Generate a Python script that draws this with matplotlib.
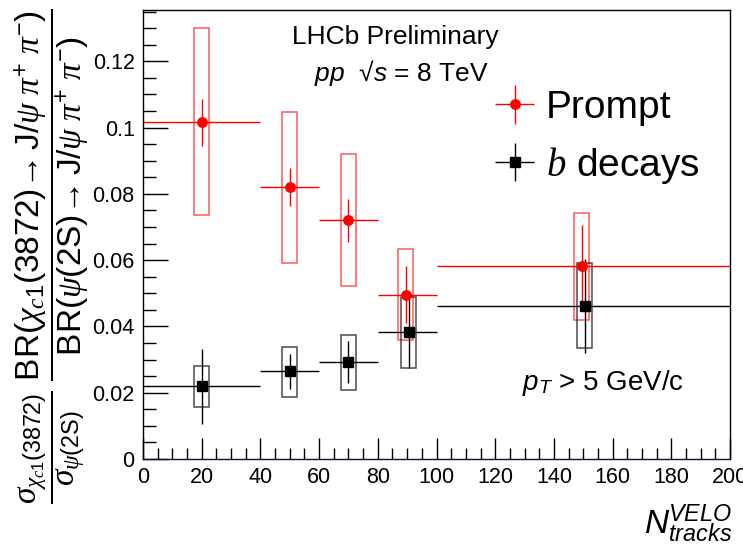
import matplotlib
matplotlib.use("Agg")
import matplotlib.pyplot as plt
import numpy as np

plt.rcParams['font.family'] = ['Liberation Sans', 'DejaVu Sans']
plt.rcParams['mathtext.fontset'] = 'custom'
plt.rcParams['mathtext.rm'] = 'Liberation Sans'
plt.rcParams['mathtext.sf'] = 'Liberation Sans:italic'
plt.rcParams['mathtext.it'] = 'Liberation Serif:italic'
plt.rcParams['mathtext.bf'] = 'Liberation Sans:bold'

# ---- data ----
bin_lo = [0, 40, 60, 80, 100]
bin_hi = [40, 60, 80, 100, 200]

prompt_x = [20, 50, 70, 89.5, 149.5]
prompt_y = [0.1016, 0.0820, 0.0721, 0.0496, 0.0582]
prompt_stat = [0.0070, 0.0058, 0.0065, 0.0086, 0.0124]
prompt_sys_lo = [0.0737, 0.0591, 0.0521, 0.0358, 0.0420]
prompt_sys_hi = [0.1300, 0.1048, 0.0921, 0.0633, 0.0743]

b_x = [20, 50, 70, 90.5, 150.5]
b_y = [0.0219, 0.0265, 0.0292, 0.0382, 0.0461]
b_stat = [0.0113, 0.0053, 0.0063, 0.0108, 0.0142]
b_sys_lo = [0.0156, 0.0188, 0.0209, 0.0274, 0.0334]
b_sys_hi = [0.0281, 0.0338, 0.0375, 0.0489, 0.0590]

sys_width = 5.0

fig = plt.figure(figsize=(7.43, 5.48), dpi=100)
ax = fig.add_axes([0.1925, 0.1624, 0.79, 0.8194])

def draw(xs, ys, stat, slo, shi, color, marker, alpha_box):
    xs = np.array(xs); ys = np.array(ys)
    xerr = [xs - np.array(bin_lo), np.array(bin_hi) - xs]
    ax.bar(xs, np.array(shi) - np.array(slo), bottom=slo, width=sys_width,
           fill=False, edgecolor=color, linewidth=1.1, alpha=alpha_box, zorder=2)
    ax.errorbar(xs, ys, yerr=stat, xerr=xerr, fmt=marker, color=color,
                ecolor=color, elinewidth=1.0, capsize=0, markersize=6.8,
                zorder=3)

draw(prompt_x, prompt_y, prompt_stat, prompt_sys_lo, prompt_sys_hi, 'red', 'o', 0.65)
draw(b_x, b_y, b_stat, b_sys_lo, b_sys_hi, 'black', 's', 0.7)

ax.set_xlim(0, 200)
ax.set_ylim(0, 0.1355)
ax.set_xticks(np.arange(0, 201, 20))
ax.set_xticks(np.arange(0, 201, 5), minor=True)
ax.set_yticks(np.arange(0, 0.121, 0.02))
ax.set_yticks(np.arange(0, 0.1355, 0.005), minor=True)
ax.set_yticklabels(['0', '0.02', '0.04', '0.06', '0.08', '0.1', '0.12'])
ax.tick_params(which='both', direction='in', top=False, right=False,
               labelsize=15.5, width=1.0)
ax.tick_params(axis='y', which='major', length=18, pad=6)
ax.tick_params(axis='y', which='minor', length=9)
ax.tick_params(axis='x', which='major', length=15, pad=6)
ax.tick_params(axis='x', which='minor', length=8)
for s in ax.spines.values():
    s.set_linewidth(1.0)
ax.spines['bottom'].set_color('#101040')

# texts
ax.text(0.43, 0.94, 'LHCb Preliminary', transform=ax.transAxes,
        ha='center', va='center', fontsize=19)
ax.text(0.44, 0.86, r'$\mathsf{pp}$  √$\mathsf{s}$ = 8 TeV', transform=ax.transAxes,
        ha='center', va='center', fontsize=19)
ax.text(0.645, 0.17, r'$\mathsf{p}_{\mathsf{T}}$ > 5 GeV/c', transform=ax.transAxes,
        ha='left', va='center', fontsize=20)

# legend
hp = ax.errorbar([], [], yerr=[], xerr=[], fmt='o', color='red', markersize=6.8,
                 elinewidth=1.0)
hb = ax.errorbar([], [], yerr=[], xerr=[], fmt='s', color='black', markersize=6.8,
                 elinewidth=1.0)
leg = ax.legend([hp, hb], ['Prompt', r'$b$ decays'], loc='upper left',
                bbox_to_anchor=(0.6, 0.822), frameon=False, fontsize=28,
                handlelength=1.0, handletextpad=0.3, borderaxespad=0,
                borderpad=0, labelspacing=0.48)

# axis labels
fig.text(0.985, 0.005, r'$\mathsf{N}^{\mathsf{VELO}}_{\mathsf{tracks}}$',
         ha='right', va='bottom', fontsize=24)
ylab = (r'$\dfrac{\sigma_{\chi_{c1}\mathrm{(3872)}}}{\sigma_{\psi\mathrm{(2S)}}}\ '
        r'\dfrac{\mathrm{BR(}\chi_{c1}\mathrm{(3872)}\!\rightarrow\mathrm{J/}\psi\ \pi^{+}\ \pi^{-}\mathrm{)}}'
        r'{\mathrm{BR(}\psi\mathrm{(2S)}\!\rightarrow\mathrm{J/}\psi\ \pi^{+}\ \pi^{-}\mathrm{)}}$')
fig.text(0.069, 0.985, ylab, rotation=90, ha='center', va='top', fontsize=24)

fig.savefig('out.png', dpi=100)
